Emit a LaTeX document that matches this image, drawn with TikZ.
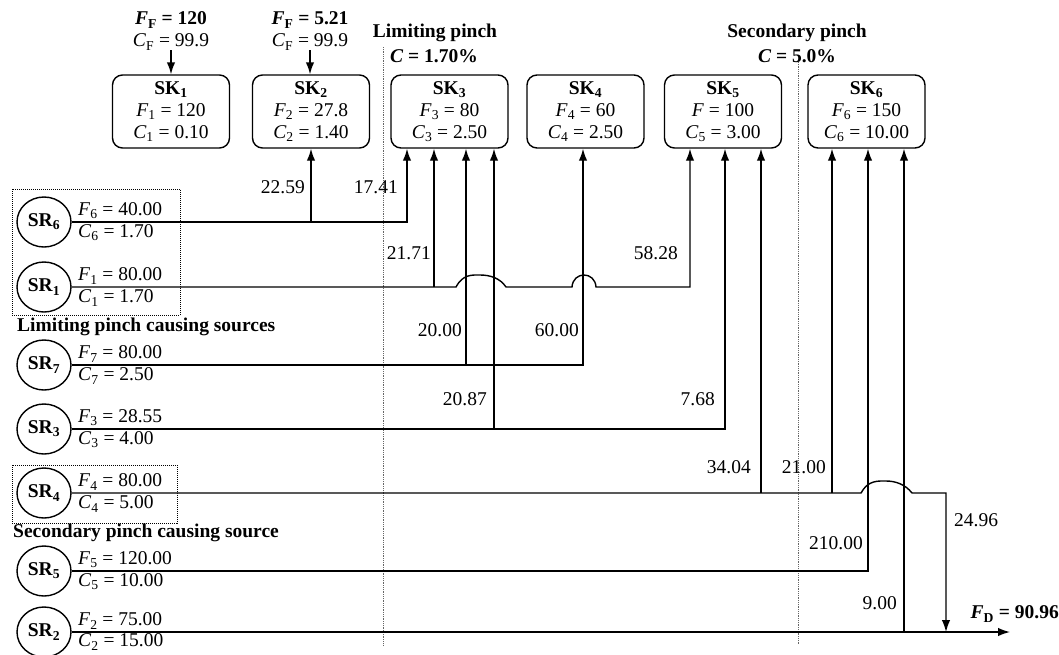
\documentclass[tikz,border=0pt]{standalone}
\usepackage{fontspec}
\setmainfont{Liberation Serif}
\usetikzlibrary{arrows.meta,shapes.geometric}
\newcommand{\myF}[1]{\textit{F}\textsubscript{#1}}
\newcommand{\myC}[1]{\textit{C}\textsubscript{#1}}
\begin{document}
\begin{tikzpicture}[x=1pt,y=-1pt,
 every node/.style={font=\fontsize{19.5}{22}\selectfont, inner sep=0pt},
 skbox/.style={draw, line width=1.4pt, rounded corners=10pt, minimum width=117pt, minimum height=73pt, align=center},
 srnode/.style={draw, ellipse, line width=1.4pt, minimum width=54pt, minimum height=50pt},
 flow/.style={line width=1.4pt},
 arr/.style={flow, -{Latex[length=12pt,width=8.5pt]}},
 pinch/.style={densely dotted, line width=0.8pt, black!60},
 grp/.style={densely dotted, line width=1pt},
 val/.style={anchor=east},
 lab/.style={anchor=west},
]
\useasboundingbox (0,0) rectangle (1059,654);

% sinks
\node[skbox] (sk1) at (171,111.5) {\textbf{SK\textsubscript{1}}\\\myF{1} = 120\\\myC{1} = 0.10};
\node[skbox] (sk2) at (311,111.5) {\textbf{SK\textsubscript{2}}\\\myF{2} = 27.8\\\myC{2} = 1.40};
\node[skbox] (sk3) at (449.5,111.5) {\textbf{SK\textsubscript{3}}\\\myF{3} = 80\\\myC{3} = 2.50};
\node[skbox] (sk4) at (585.5,111.5) {\textbf{SK\textsubscript{4}}\\\myF{4} = 60\\\myC{4} = 2.50};
\node[skbox] (sk5) at (723,111.5) {\textbf{SK\textsubscript{5}}\\\textit{F} = 100\\\myC{5} = 3.00};
\node[skbox] (sk6) at (866.5,111.5) {\textbf{SK\textsubscript{6}}\\\myF{6} = 150\\\myC{6} = 10.00};

% fresh feeds
\node (ff1) at (171,20) {\textbf{\textit{F}\textsubscript{F} = 120}};
\node (cf1) at (171,42) {\myC{F} = 99.9};
\node (ff2) at (310,20) {\textbf{\textit{F}\textsubscript{F} = 5.21}};
\node (cf2) at (310,42) {\myC{F} = 99.9};
\draw[arr] (cf1.south) -- (sk1.north);
\draw[arr] (cf2.south) -- (cf2.south |- sk2.north);

% pinch labels and lines
\node (lp1) at (435,33) {\textbf{Limiting pinch}};
\node (lp2) at (434,56) {\textbf{\textit{C} = 1.70\%}};
\node (sp1) at (797,33) {\textbf{Secondary pinch}};
\node (sp2) at (797,56) {\textbf{\textit{C} = 5.0\%}};
\coordinate (p1t) at (383,47);
\coordinate (p1b) at (383,645);
\coordinate (p2t) at (798,62);
\coordinate (p2b) at (798,645);
\draw[pinch] (p1t) -- (p1b);
\draw[pinch] (p2t) -- (p2b);

% sources
\node[srnode] (sr6) at (44,222) {\textbf{SR\textsubscript{6}}};
\node[srnode] (sr1) at (44,287) {\textbf{SR\textsubscript{1}}};
\node[srnode] (sr7) at (44,365) {\textbf{SR\textsubscript{7}}};
\node[srnode] (sr3) at (44,429) {\textbf{SR\textsubscript{3}}};
\node[srnode] (sr4) at (44,493) {\textbf{SR\textsubscript{4}}};
\node[srnode] (sr5) at (44,571) {\textbf{SR\textsubscript{5}}};
\node[srnode] (sr2) at (44,632) {\textbf{SR\textsubscript{2}}};

\node[lab] (f6) at (78,211) {\myF{6} = 40.00};
\node[lab] (c6) at (78,233) {\myC{6} = 1.70};
\node[lab] (f1) at (78,276) {\myF{1} = 80.00};
\node[lab] (c1) at (78,298) {\myC{1} = 1.70};
\node[lab] (f7) at (78,354) {\myF{7} = 80.00};
\node[lab] (c7) at (78,376) {\myC{7} = 2.50};
\node[lab] (f3) at (78,418) {\myF{3} = 28.55};
\node[lab] (c3) at (78,440) {\myC{3} = 4.00};
\node[lab] (f4) at (78,482) {\myF{4} = 80.00};
\node[lab] (c4) at (78,504) {\myC{4} = 5.00};
\node[lab] (f5) at (78,560) {\myF{5} = 120.00};
\node[lab] (c5) at (78,582) {\myC{5} = 10.00};
\node[lab] (f2) at (78,621) {\myF{2} = 75.00};
\node[lab] (c2) at (78,642) {\myC{2} = 15.00};

% groups
\draw[grp] (12,189) rectangle (180,315);
\node[lab] (g1) at (17,327) {\textbf{Limiting pinch causing sources}};
\draw[grp] (12,465) rectangle (177,523);
\node[lab] (g2) at (13,533) {\textbf{Secondary pinch causing source}};

% SR6
\draw[arr] (sr6.east) -| (407,0 |- sk3.south);
\coordinate (j62) at (311,222);
\draw[arr] (j62) -- (j62 |- sk2.south);
\node[val] at (305,187) {22.59};
\node[val] at (398,187) {17.41};

% SR1
\draw[arr] (sr1.east) -- (456,287) .. controls (463,274) and (472,275) .. (480,275) .. controls (490,275) and (500,278) .. (506,287) -- (572,287) .. controls (573,271) and (595,271) .. (596,287) -| (690,0 |- sk5.south);
\coordinate (j13) at (434,287);
\draw[arr] (j13) -- (j13 |- sk3.south);
\node[val] at (431,253) {21.71};
\node[val] at (678,253) {58.28};

% SR7
\draw[arr] (sr7.east) -| (583,0 |- sk4.south);
\coordinate (j73) at (466,365);
\draw[arr] (j73) -- (j73 |- sk3.south);
\node[val] at (462,330) {20.00};
\node[val] at (579,330) {60.00};

% SR3
\draw[arr] (sr3.east) -| (725,0 |- sk5.south);
\coordinate (j33) at (494,429);
\draw[arr] (j33) -- (j33 |- sk3.south);
\node[val] at (487,399) {20.87};
\node[val] at (715,399) {7.68};

% SR2 (discharge line)
\coordinate (dout) at (1010,632);
\coordinate (jd) at (946,632);
\draw[arr] (sr2.east) -- (dout);
\coordinate (j26) at (904,632);
\draw[arr] (j26) -- (j26 |- sk6.south);
\node[val] at (897,603) {9.00};
\node[anchor=east] (fd) at (1059,614) {\textbf{\textit{F}\textsubscript{D} = 90.96}};

% SR4
\draw[arr] (sr4.east) -- (861,493) .. controls (868,480) and (878,481) .. (886,481) .. controls (895,481) and (905,484) .. (912,493) -| (jd);
\coordinate (j45) at (761,493);
\draw[arr] (j45) -- (j45 |- sk5.south);
\coordinate (j46) at (832,493);
\draw[arr] (j46) -- (j46 |- sk6.south);
\node[val] at (751,467) {34.04};
\node[val] at (826,467) {21.00};
\node[anchor=west] at (954,520) {24.96};

% SR5
\draw[arr] (sr5.east) -| (868,0 |- sk6.south);
\node[val] at (863,543) {210.00};
\end{tikzpicture}
\end{document}
